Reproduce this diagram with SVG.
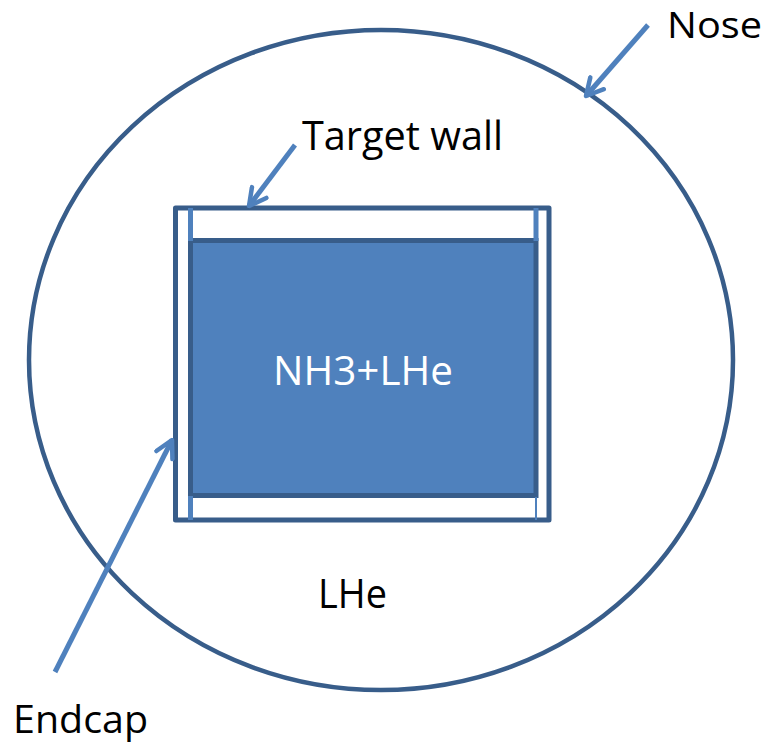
<svg xmlns="http://www.w3.org/2000/svg" width="770" height="743" viewBox="0 0 770 743">
  <style>
    .dark { fill: none; stroke: #385D8A; stroke-width: 5; stroke-linejoin: round; }
    .light { stroke: #4F81BD; stroke-width: 5; }
    .lbl { font-family: "Open Sans", "Liberation Sans", sans-serif; font-size: 41px; fill: #000; }
    .arrow { fill: none; stroke: #4F81BD; stroke-width: 5; marker-end: url(#open); }
  </style>
  <defs>
    <marker id="open" viewBox="0 0 10 10" refX="9" refY="5" markerWidth="4.5" markerHeight="4.5" orient="auto" markerUnits="strokeWidth">
      <path d="M1.5,1 L9,5 L1.5,9" fill="none" stroke="#4F81BD" stroke-width="2" stroke-linecap="round" stroke-linejoin="round"/>
    </marker>
  </defs>
  <rect width="770" height="743" fill="#fff"/>
  <g id="nose">
    <ellipse cx="381" cy="360" rx="352" ry="330" fill="none" stroke="#385D8A" stroke-width="4.5"/>
  </g>
  <g id="target-wall">
    <rect class="dark" x="175.5" y="208" width="373.5" height="312"/>
  </g>
  <g id="target">
    <rect x="190.5" y="240.5" width="345.5" height="255" fill="#4F81BD" stroke="#385D8A" stroke-width="5"/>
    <text class="lbl" x="273" y="385" textLength="180" lengthAdjust="spacingAndGlyphs" style="fill:#fff">NH3+LHe</text>
  </g>
  <g id="endcaps">
    <line class="light" x1="190.5" y1="208" x2="190.5" y2="241"/>
    <line class="light" x1="536" y1="208" x2="536" y2="241"/>
    <line class="light" x1="190.5" y1="496" x2="190.5" y2="520"/>
    <line class="light" x1="536" y1="497" x2="536" y2="520" style="stroke-width:2"/>
  </g>
  <g id="labels">
    <text class="lbl" x="667" y="38" textLength="95" lengthAdjust="spacingAndGlyphs" style="font-size:36px">Nose</text>
    <text class="lbl" x="302" y="150" textLength="201" lengthAdjust="spacingAndGlyphs">Target wall</text>
    <text class="lbl" x="318" y="608" textLength="69" lengthAdjust="spacingAndGlyphs">LHe</text>
    <text class="lbl" x="13" y="733" textLength="135" lengthAdjust="spacingAndGlyphs" style="font-size:39px">Endcap</text>
  </g>
  <g id="connectors">
    <line class="arrow" x1="648" y1="25" x2="586" y2="96"/>
    <line class="arrow" x1="295" y1="145" x2="249" y2="206"/>
    <line class="arrow" x1="55" y1="672" x2="172" y2="440"/>
  </g>
</svg>
